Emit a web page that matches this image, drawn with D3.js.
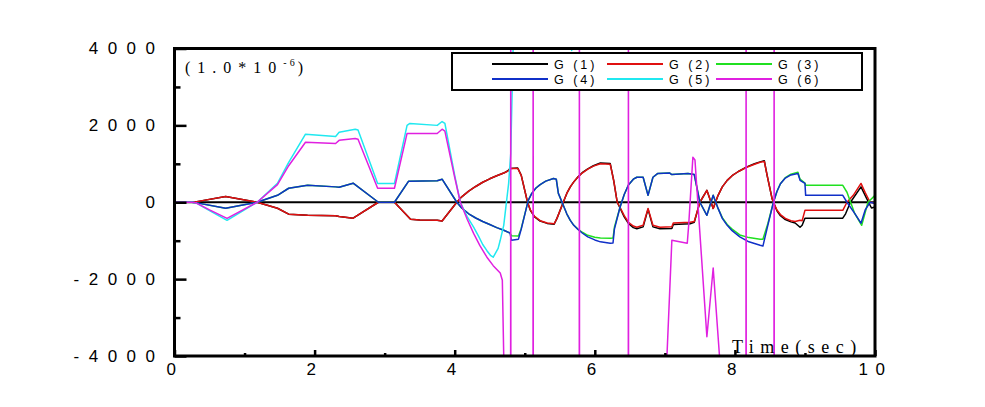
<!DOCTYPE html>
<html>
<head>
<meta charset="utf-8">
<script src="https://cdn.jsdelivr.net/npm/d3@7"></script>
<style>
  body { margin: 0; background: #fff; }
  svg { display: block; }
</style>
</head>
<body>
<svg id="chart" width="985" height="407"></svg>
<script>
// time (sec) , value (1.0*10^-6)
let g1 = [[0,0],[0.25,0],[0.3,10],[0.73,150],[1.18,0],[1.47,-156],[1.63,-310],[1.9,-338],[2.3,-350],[2.35,-370],[2.55,-415],[2.91,0],[3.14,0],[3.37,-440],[3.5,-460],[3.75,-470],[3.82,-490],[4.03,0],[4.1,140],[4.2,290],[4.3,410],[4.4,520],[4.5,610],[4.6,690],[4.7,760],[4.76,820],[4.79,880],[4.9,890],[4.95,700],[5.04,0],[5.08,-210],[5.14,-380],[5.22,-490],[5.32,-550],[5.42,-570],[5.46,-420],[5.55,0],[5.6,230],[5.65,400],[5.7,530],[5.75,640],[5.82,770],[5.9,870],[5.98,950],[6.08,1020],[6.22,1010],[6.27,560],[6.32,0],[6.36,-150],[6.42,-380],[6.48,-550],[6.55,-660],[6.6,-690],[6.69,-640],[6.76,-180],[6.83,-640],[6.93,-690],[7.1,-680],[7.12,-580],[7.36,-560],[7.42,-520],[7.5,0],[7.6,310],[7.69,-160],[7.76,180],[7.82,400],[7.89,570],[7.96,690],[8.05,800],[8.17,920],[8.28,1000],[8.36,1050],[8.42,1080],[8.46,700],[8.53,100],[8.55,0],[8.6,-220],[8.65,-350],[8.72,-450],[8.8,-510],[8.86,-540],[8.93,-650],[8.96,-600],[9.0,-415],[9.54,-415],[9.58,-300],[9.65,0],[9.8,400],[9.88,100],[9.95,-150],[10,-120]];
let g2 = [[0,0],[0.25,0],[0.3,10],[0.73,150],[1.18,0],[1.47,-156],[1.63,-310],[1.9,-338],[2.3,-350],[2.35,-370],[2.55,-415],[2.91,0],[3.14,0],[3.37,-440],[3.5,-460],[3.75,-470],[3.82,-490],[4.03,0],[4.1,140],[4.2,290],[4.3,410],[4.4,520],[4.5,610],[4.6,690],[4.7,760],[4.76,810],[4.79,880],[4.9,880],[4.95,700],[5.04,0],[5.08,-200],[5.14,-370],[5.22,-480],[5.32,-540],[5.42,-560],[5.46,-420],[5.55,0],[5.6,230],[5.65,400],[5.7,530],[5.75,640],[5.82,760],[5.9,860],[5.98,940],[6.08,1000],[6.22,990],[6.27,560],[6.32,0],[6.36,-130],[6.42,-350],[6.48,-520],[6.55,-620],[6.6,-650],[6.69,-600],[6.76,-160],[6.83,-600],[6.93,-650],[7.1,-640],[7.12,-540],[7.36,-520],[7.42,-500],[7.5,0],[7.6,310],[7.69,-160],[7.76,180],[7.82,400],[7.89,570],[7.96,690],[8.05,800],[8.17,910],[8.28,990],[8.36,1040],[8.42,1060],[8.46,700],[8.53,100],[8.55,0],[8.6,-200],[8.65,-320],[8.72,-420],[8.8,-480],[8.86,-500],[8.93,-470],[8.96,-480],[9.0,-210],[9.54,-210],[9.6,0],[9.69,180],[9.8,490],[9.86,250],[9.93,0],[10,-20]];
let g3 = [[0,0],[0.25,0],[0.3,-10],[0.73,-156],[1.18,0],[1.47,180],[1.63,364],[1.9,440],[2.3,400],[2.35,390],[2.55,495],[2.91,0],[3.14,0],[3.34,545],[3.75,560],[3.82,600],[4.03,0],[4.1,-150],[4.2,-300],[4.3,-410],[4.4,-500],[4.5,-580],[4.6,-660],[4.7,-730],[4.79,-800],[4.81,-870],[4.91,-880],[4.95,-680],[5.05,50],[5.1,230],[5.16,370],[5.22,460],[5.3,550],[5.41,620],[5.45,600],[5.48,230],[5.55,-80],[5.6,-300],[5.65,-470],[5.7,-600],[5.76,-700],[5.82,-780],[5.9,-860],[6.0,-910],[6.08,-930],[6.22,-935],[6.26,-930],[6.28,-650],[6.36,-130],[6.42,200],[6.48,450],[6.55,600],[6.6,650],[6.69,650],[6.76,180],[6.83,650],[6.9,750],[7.07,760],[7.1,720],[7.33,750],[7.42,720],[7.5,0],[7.6,-340],[7.69,180],[7.76,-160],[7.82,-400],[7.89,-580],[7.96,-700],[8.07,-850],[8.2,-920],[8.36,-960],[8.4,-960],[8.47,-560],[8.55,0],[8.6,280],[8.65,480],[8.72,640],[8.8,730],[8.9,780],[8.93,600],[9.0,500],[9.01,440],[9.54,440],[9.6,260],[9.71,-290],[9.81,-600],[9.9,0],[10,180]];
let g4 = [[0,0],[0.25,0],[0.3,-10],[0.73,-156],[1.18,0],[1.47,180],[1.63,364],[1.9,440],[2.3,400],[2.35,390],[2.55,495],[2.91,0],[3.14,0],[3.34,545],[3.75,560],[3.82,600],[4.03,0],[4.1,-150],[4.2,-300],[4.3,-410],[4.4,-500],[4.5,-580],[4.6,-660],[4.7,-730],[4.79,-800],[4.81,-990],[4.91,-960],[4.95,-700],[5.05,50],[5.1,230],[5.16,370],[5.22,460],[5.3,550],[5.41,620],[5.45,600],[5.48,230],[5.55,-80],[5.6,-300],[5.65,-470],[5.7,-600],[5.76,-710],[5.82,-800],[5.9,-900],[6.0,-980],[6.08,-1030],[6.22,-1065],[6.26,-1060],[6.28,-700],[6.36,-130],[6.42,200],[6.48,450],[6.55,600],[6.6,650],[6.69,650],[6.76,180],[6.83,650],[6.9,750],[7.07,760],[7.1,720],[7.33,750],[7.42,720],[7.5,0],[7.6,-340],[7.69,180],[7.76,-160],[7.82,-420],[7.89,-600],[7.96,-740],[8.07,-900],[8.2,-1030],[8.36,-1120],[8.4,-1140],[8.47,-600],[8.55,0],[8.6,280],[8.65,480],[8.72,630],[8.8,710],[8.9,750],[8.93,570],[9.0,490],[9.01,180],[9.54,180],[9.6,0],[9.71,-290],[9.8,-545],[9.86,-200],[9.93,0],[10,-30]];
let g5 = [[0,0],[0.25,0],[0.3,-10],[0.5,-220],[0.75,-470],[1.18,0],[1.47,490],[1.63,1040],[1.87,1770],[2.3,1710],[2.35,1820],[2.58,1900],[2.62,1880],[2.9,490],[3.14,490],[3.32,2000],[3.36,2050],[3.75,2000],[3.82,2100],[3.86,2050],[4.0,700],[4.08,0],[4.18,-380],[4.27,-650],[4.34,-880],[4.4,-1100],[4.46,-1260],[4.51,-1380],[4.55,-1430],[4.62,-1200],[4.65,-990],[4.7,-600],[4.77,490],[4.8,1270],[4.84,4500],[4.88,9000],[5.6,9000],[5.67,3950],[5.74,9000],[10,9000]];
let g6 = [[0,0],[0.25,0],[0.3,-10],[0.5,-200],[0.75,-420],[1.18,0],[1.47,460],[1.63,950],[1.87,1560],[2.3,1530],[2.35,1610],[2.58,1660],[2.62,1640],[2.9,365],[3.14,365],[3.32,1790],[3.75,1790],[3.82,1900],[3.86,1850],[4.0,650],[4.08,0],[4.18,-450],[4.27,-810],[4.36,-1130],[4.46,-1430],[4.55,-1650],[4.65,-1840],[4.68,-2030],[4.7,-4000],[4.75,-7000],
  [4.798,-7000],[4.8,9000],[4.802,-7000],[5.118,-7000],[5.12,9000],[5.122,-7000],[5.778,-7000],[5.78,9000],[5.782,-7000],[6.478,-7000],[6.48,9000],[6.482,-7000],
  [6.98,-7000],[7.03,-4000],[7.1,-990],[7.32,-1065],[7.34,-600],[7.4,1170],[7.43,1100],[7.6,-3500],[7.69,-1710],[7.78,-4000],[7.82,-7000],
  [8.158,-7000],[8.16,9000],[8.162,-7000],[8.558,-7000],[8.56,9000],[8.562,-7000],[10,-7000]];

let seriesNames = ["G (1)", "G (2)", "G (3)", "G (4)", "G (5)", "G (6)"];
let seriesColors = ["#000000", "#e01010", "#20e020", "#1030c8", "#20e8f0", "#e020e0"];
let seriesData = [g1, g2, g3, g4, g5, g6];

let yMajor = [-4000, -2000, 0, 2000, 4000];
let yMajorLabels = ["-4000", "-2000", "0", "2000", "4000"];
let yMinor = [-3000, -1000, 1000, 3000];
let xMajor = [0, 2, 4, 6, 8, 10];
let xMajorLabels = ["0", "2", "4", "6", "8", "10"];
let xMinor = [1, 3, 5, 7, 9];

let svg = d3.select("#chart");

let plotLeft = 174.5, plotRight = 875, plotTop = 48.5, plotBottom = 356;

let x = d3.scaleLinear().domain([0, 10]).range([plotLeft, plotRight]);
let y = d3.scaleLinear().domain([-4000, 4000]).range([plotBottom, plotTop]);

svg.append("rect").attr("width", 985).attr("height", 407).attr("fill", "#fff");

svg.append("clipPath").attr("id", "plotclip")
  .append("rect")
  .attr("x", plotLeft).attr("y", plotTop)
  .attr("width", plotRight - plotLeft).attr("height", plotBottom - plotTop);

// zero line
svg.append("line")
  .attr("x1", plotLeft).attr("x2", plotRight)
  .attr("y1", y(0)).attr("y2", y(0))
  .attr("stroke", "#000").attr("stroke-width", 2);

let line = d3.line()
  .x(d => x(d[0]))
  .y(d => y(d[1]));

let plot = svg.append("g").attr("clip-path", "url(#plotclip)");
plot.selectAll("path")
  .data(seriesData)
  .enter()
  .append("path")
  .attr("d", line)
  .attr("fill", "none")
  .attr("stroke", (d, i) => seriesColors[i])
  .attr("stroke-width", 1.5)
  .attr("stroke-linejoin", "round");

// y axis, ticks point inward
let yAxisMajor = d3.axisLeft(y)
  .tickValues(yMajor)
  .tickSize(-12)
  .tickPadding(10)
  .tickFormat((d, i) => yMajorLabels[i]);
let yAxisMinor = d3.axisLeft(y).tickValues(yMinor).tickSize(-6).tickFormat("");

let gy = svg.append("g").attr("transform", "translate(" + plotLeft + ",0)").call(yAxisMajor);
let gy2 = svg.append("g").attr("transform", "translate(" + plotLeft + ",0)").call(yAxisMinor);
gy2.select(".domain").remove();
gy2.selectAll(".tick line").attr("stroke-width", 2.5);
gy.select(".domain").remove();
gy.selectAll(".tick line").attr("stroke-width", 2.5);
gy.selectAll("text")
  .attr("font-family", "Liberation Sans, Arial, sans-serif")
  .attr("font-size", 17)
  .attr("letter-spacing", "9.5px")
  .attr("fill", "#000");

let xAxisMajor = d3.axisBottom(x)
  .tickValues(xMajor)
  .tickSize(-6)
  .tickPadding(7)
  .tickFormat((d, i) => xMajorLabels[i]);
let xAxisMinor = d3.axisBottom(x).tickValues(xMinor).tickSize(-3).tickFormat("");

let gx = svg.append("g").attr("transform", "translate(0," + plotBottom + ")").call(xAxisMajor);
let gx2 = svg.append("g").attr("transform", "translate(0," + plotBottom + ")").call(xAxisMinor);
gx2.select(".domain").remove();
gx2.selectAll(".tick line").attr("stroke-width", 2.5);
gx.select(".domain").remove();
gx.selectAll(".tick line").attr("stroke-width", 2.5);
gx.selectAll("text")
  .attr("font-family", "Liberation Sans, Arial, sans-serif")
  .attr("font-size", 17)
  .attr("letter-spacing", "7.5px")
  .attr("fill", "#000");

// frame
svg.append("rect")
  .attr("x", plotLeft).attr("y", plotTop)
  .attr("width", plotRight - plotLeft).attr("height", plotBottom - plotTop)
  .attr("fill", "none")
  .attr("stroke", "#000")
  .attr("stroke-width", 3);

// unit note
let unit = svg.append("text")
  .attr("x", 185).attr("y", 73)
  .attr("font-family", "Liberation Serif, Times New Roman, serif")
  .attr("font-size", 16)
  .attr("letter-spacing", "7px");
unit.append("tspan").text("(1.0*10");
unit.append("tspan").attr("dy", -7).attr("font-size", 10).attr("letter-spacing", "3px").text("-6");
unit.append("tspan").attr("dy", 7).text(")");

// x title
svg.append("text")
  .attr("x", 732).attr("y", 353)
  .attr("font-family", "Liberation Serif, Times New Roman, serif")
  .attr("font-size", 18)
  .attr("letter-spacing", "6.5px")
  .text("Time(sec)");

// legend
let legend = svg.append("g");
legend.append("rect")
  .attr("x", 452).attr("y", 53)
  .attr("width", 410).attr("height", 37)
  .attr("fill", "#fff")
  .attr("stroke", "#000")
  .attr("stroke-width", 2);

let colX = [492, 607, 716];
let rowY = [64, 79];
let items = legend.selectAll(".item")
  .data(seriesNames)
  .enter()
  .append("g")
  .attr("class", "item")
  .attr("transform", (d, i) => "translate(" + colX[i % 3] + "," + rowY[Math.floor(i / 3)] + ")");
items.append("line")
  .attr("x1", 0).attr("x2", 56)
  .attr("stroke", (d, i) => seriesColors[i])
  .attr("stroke-width", 2);
items.append("text")
  .attr("x", 62).attr("y", 4.5)
  .attr("font-family", "Liberation Sans, Arial, sans-serif")
  .attr("font-size", 12.5)
  .attr("letter-spacing", "3px")
  .text(d => d);
</script>
</body>
</html>
